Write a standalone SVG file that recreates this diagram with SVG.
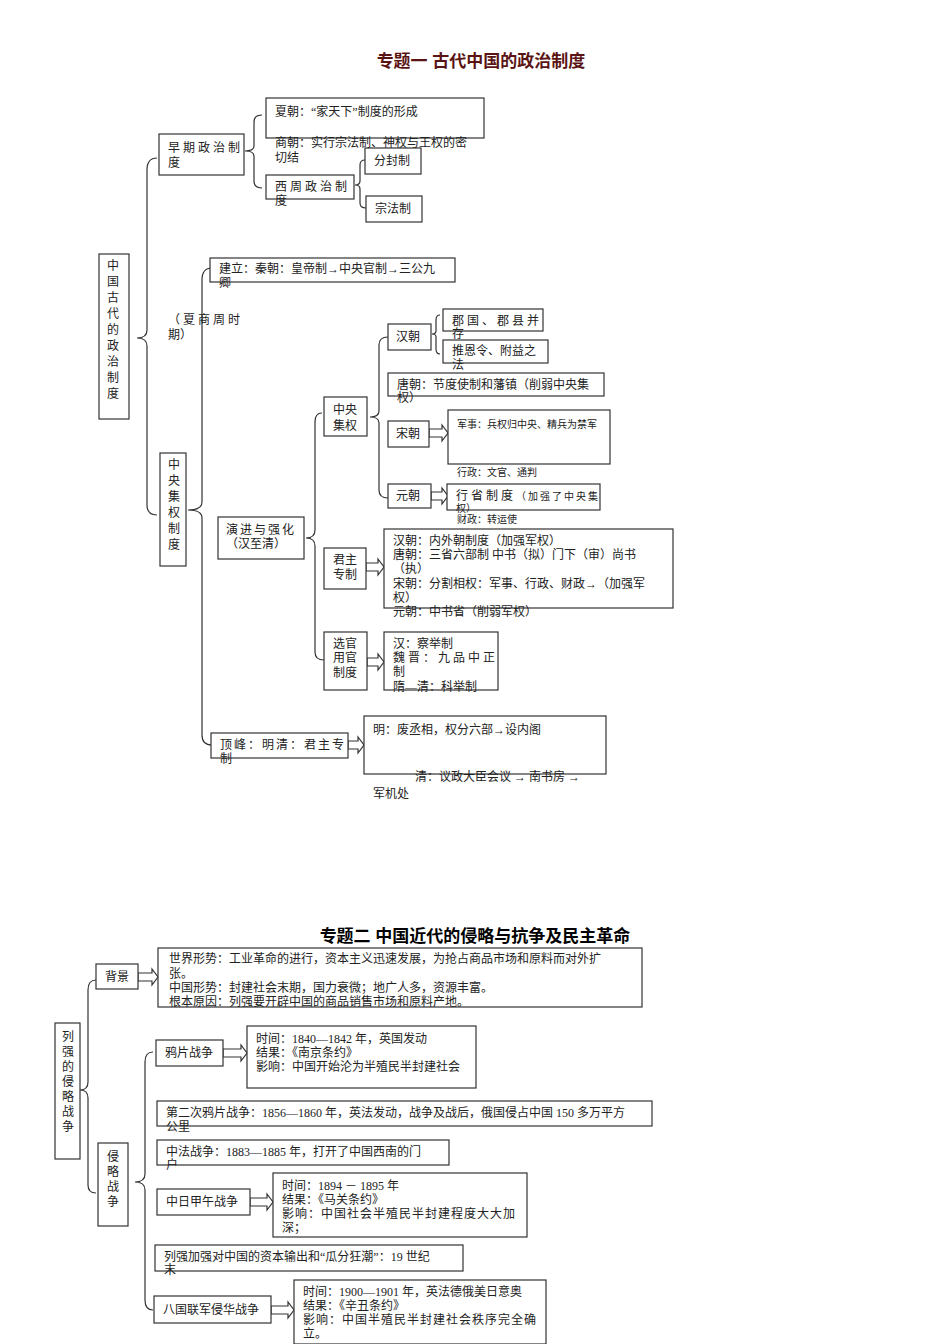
<svg xmlns="http://www.w3.org/2000/svg" width="950" height="1344" viewBox="0 0 950 1344">
<style>
text{font-family:"Liberation Serif","Noto Sans CJK SC",serif;font-size:12px;fill:#222}
.t1{font-family:"Liberation Sans","Noto Sans CJK SC",sans-serif;font-size:17px;font-weight:bold;fill:#5a1414}
.t2{font-family:"Liberation Sans","Noto Sans CJK SC",sans-serif;font-size:17px;font-weight:bold;fill:#000}
.s{font-size:10px}
rect{fill:#fff;stroke:#333;stroke-width:1.2}
.c path{fill:none;stroke:#333;stroke-width:1.2}
.c polygon{fill:#fff;stroke:#333;stroke-width:1.2}
</style>
<rect x="0" y="0" width="950" height="1344" style="stroke:none"/>
<text class="t1" x="481" y="67" text-anchor="middle">专题一  古代中国的政治制度</text>
<text class="t2" x="475" y="942" text-anchor="middle">专题二    中国近代的侵略与抗争及民主革命</text>

<g class="c" id="connectors">
<path d="M157 158 Q147 158 147 170 L147 330 Q147 338 137 338 Q147 338 147 346 L147 505 Q147 515 157 515"/>
<path d="M262 115 Q254 115 254 122 L254 146 Q254 151 245 151 Q254 151 254 156 L254 181 Q254 188 262 188"/>
<path d="M365 160 Q360 160 360 165 L360 181 Q360 185 355 185 Q360 185 360 189 L360 203 Q360 208 366 208"/>
<path d="M212 268 Q202 268 202 280 L202 502 Q202 510 188 510 Q202 510 202 518 L202 735 Q202 745 212 745"/>
<path d="M322 413 Q315 413 315 422 L315 530 Q315 538 306 538 Q315 538 315 546 L315 652 Q315 660 324 660"/>
<path d="M388 337 Q379 337 379 345 L379 411 Q379 417 370 417 Q379 417 379 423 L379 490 Q379 498 388 498"/>
<path d="M440 315 Q436 315 436 320 L436 331 Q436 334 432 334 Q436 334 436 337 L436 349 Q436 354 440 354"/>
<path d="M96 980 Q88 980 88 990 L88 1082 Q88 1090 80 1090 Q88 1090 88 1098 L88 1185 Q88 1193 96 1193"/>
<path d="M153 1052 Q145 1052 145 1062 L145 1174 Q145 1182 135 1182 Q145 1182 145 1190 L145 1300 Q145 1310 153 1310"/>
<polygon points="429,429 442,429 442,425 448,433 442,441 442,437 429,437"/>
<polygon points="431,492 442,492 442,488 448,496 442,504 442,500 431,500"/>
<polygon points="366,563 378,563 378,559 384,567 378,575 378,571 366,571"/>
<polygon points="367,658 378,658 378,654 384,662 378,670 378,666 367,666"/>
<polygon points="348,741 358,741 358,737 364,745 358,753 358,749 348,749"/>
<polygon points="138,973 152,973 152,969 158,977 152,985 152,981 138,981"/>
<polygon points="223,1049 241,1049 241,1045 247,1053 241,1061 241,1057 223,1057"/>
<polygon points="250,1198 267,1198 267,1194 273,1202 267,1210 267,1206 250,1206"/>
<polygon points="271,1306 288,1306 288,1302 294,1310 288,1318 288,1314 271,1314"/>
</g>

<g id="root1"><rect x="99" y="254" width="30" height="165"/>
<text x="113" y="270" text-anchor="middle">中</text><text x="113" y="286" text-anchor="middle">国</text><text x="113" y="302" text-anchor="middle">古</text><text x="113" y="318" text-anchor="middle">代</text><text x="113" y="334" text-anchor="middle">的</text><text x="113" y="350" text-anchor="middle">政</text><text x="113" y="366" text-anchor="middle">治</text><text x="113" y="382" text-anchor="middle">制</text><text x="113" y="398" text-anchor="middle">度</text></g>
<g id="early"><rect x="159" y="134" width="85" height="41"/><text x="168" y="152" letter-spacing="3">早期政治制</text><text x="168" y="167">度</text></g>
<g id="xia"><rect x="266" y="98" width="218" height="40"/><text x="275" y="116">夏朝：“家天下”制度的形成</text></g>
<g id="shang"><text x="275" y="147">商朝：实行宗法制、神权与王权的密</text><text x="275" y="162">切结</text></g>
<g id="xizhou"><rect x="266" y="175" width="88" height="24"/><text x="275" y="191" letter-spacing="3">西周政治制</text><text x="275" y="205">度</text></g>
<g id="fenfeng"><rect x="365" y="148" width="56" height="26"/><text x="374" y="165">分封制</text></g>
<g id="zongfa"><rect x="366" y="196" width="56" height="26"/><text x="375" y="213">宗法制</text></g>
<g id="xsz"><text x="168" y="324" letter-spacing="3">（夏商周时</text><text x="168" y="339">期）</text></g>
<g id="zyjq"><rect x="160" y="453" width="26" height="113"/>
<text x="174" y="469" text-anchor="middle">中</text><text x="174" y="485" text-anchor="middle">央</text><text x="174" y="501" text-anchor="middle">集</text><text x="174" y="517" text-anchor="middle">权</text><text x="174" y="533" text-anchor="middle">制</text><text x="174" y="549" text-anchor="middle">度</text></g>
<g id="jianli"><rect x="210" y="258" width="245" height="24"/><text x="219" y="273">建立：秦朝：皇帝制→中央官制→三公九</text><text x="219" y="287">卿</text></g>
<g id="yanjin"><rect x="218" y="517" width="86" height="42"/><text x="226" y="534" letter-spacing="2">演进与强化</text><text x="226" y="548">（汉至清）</text></g>
<g id="zhongyang"><rect x="324" y="397" width="43" height="39"/><text x="333" y="414">中央</text><text x="333" y="430">集权</text></g>
<g id="han"><rect x="388" y="324" width="43" height="26"/><text x="396" y="341">汉朝</text></g>
<g id="junguo"><rect x="443" y="309" width="100" height="22"/><text x="452" y="325" letter-spacing="3">郡国、郡县并</text><text x="452" y="338">存</text></g>
<g id="tuien"><rect x="443" y="340" width="105" height="23"/><text x="452" y="355">推恩令、附益之</text><text x="452" y="369">法</text></g>
<g id="tang"><rect x="388" y="373" width="216" height="23"/><text x="397" y="389">唐朝：节度使制和藩镇（削弱中央集</text><text x="397" y="402">权）</text></g>
<g id="song"><rect x="388" y="421" width="41" height="26"/><text x="396" y="438">宋朝</text></g>
<g id="songc"><rect x="448" y="410" width="162" height="54"/><text class="s" x="457" y="428">军事：兵权归中央、精兵为禁军</text><text class="s" x="457" y="476">行政：文官、通判</text></g>
<g id="yuan"><rect x="388" y="484" width="43" height="24"/><text x="396" y="500">元朝</text></g>
<g id="yuanc"><rect x="447" y="484" width="153" height="26"/><text x="456" y="500"><tspan letter-spacing="3">行省制度</tspan><tspan class="s" letter-spacing="2">（加强了中央集</tspan></text><text class="s" x="456" y="512">权）</text><text class="s" x="457" y="523">财政：转运使</text></g>
<g id="junzhu"><rect x="324" y="548" width="42" height="41"/><text x="333" y="564">君主</text><text x="333" y="579">专制</text></g>
<g id="junzhuc"><rect x="384" y="529" width="289" height="79"/><text x="393" y="545">汉朝：内外朝制度（加强军权）</text><text x="393" y="559">唐朝：三省六部制  中书（拟）门下（审）尚书</text><text x="393" y="573">（执）</text><text x="393" y="588">宋朝：分割相权：军事、行政、财政→（加强军</text><text x="393" y="602">权）</text><text x="393" y="616">元朝：中书省（削弱军权）</text></g>
<g id="xuanguan"><rect x="324" y="632" width="43" height="58"/><text x="333" y="648">选官</text><text x="333" y="662">用官</text><text x="333" y="677">制度</text></g>
<g id="xuanguanc"><rect x="384" y="632" width="114" height="58"/><text x="393" y="648">汉：察举制</text><text x="393" y="662" letter-spacing="3">魏晋：九品中正</text><text x="393" y="676">制</text><text x="393" y="691">隋—清：科举制</text></g>
<g id="dingfeng"><rect x="211" y="733" width="137" height="25"/><text x="220" y="749" letter-spacing="2">顶峰：明清：君主专</text><text x="220" y="763">制</text></g>
<g id="ming"><rect x="364" y="716" width="242" height="58"/><text x="373" y="734">明：废丞相，权分六部→设内阁</text><text x="415" y="781">清：议政大臣会议 → 南书房 →</text><text x="373" y="798">军机处</text></g>

<g id="root2"><rect x="55" y="1023" width="25" height="136"/>
<text x="68" y="1041" text-anchor="middle">列</text><text x="68" y="1056" text-anchor="middle">强</text><text x="68" y="1071" text-anchor="middle">的</text><text x="68" y="1086" text-anchor="middle">侵</text><text x="68" y="1101" text-anchor="middle">略</text><text x="68" y="1116" text-anchor="middle">战</text><text x="68" y="1131" text-anchor="middle">争</text></g>
<g id="beijing"><rect x="96" y="964" width="42" height="25"/><text x="105" y="981">背景</text></g>
<g id="beijingc"><rect x="158" y="948" width="484" height="59"/><text x="169" y="963">世界形势：工业革命的进行，资本主义迅速发展，为抢占商品市场和原料而对外扩</text><text x="169" y="978">张。</text><text x="169" y="992">中国形势：封建社会末期，国力衰微；地广人多，资源丰富。</text><text x="169" y="1006">根本原因：列强要开辟中国的商品销售市场和原料产地。</text></g>
<g id="qinlue"><rect x="98" y="1143" width="30" height="83"/><text x="113" y="1161" text-anchor="middle">侵</text><text x="113" y="1176" text-anchor="middle">略</text><text x="113" y="1191" text-anchor="middle">战</text><text x="113" y="1206" text-anchor="middle">争</text></g>
<g id="yapian"><rect x="156" y="1040" width="67" height="26"/><text x="165" y="1057">鸦片战争</text></g>
<g id="yapianc"><rect x="247" y="1026" width="229" height="62"/><text x="256" y="1043">时间：1840—1842 年，英国发动</text><text x="256" y="1057">结果：《南京条约》</text><text x="256" y="1071">影响：中国开始沦为半殖民半封建社会</text></g>
<g id="dierci"><rect x="157" y="1101" width="495" height="25"/><text x="166" y="1117">第二次鸦片战争：1856—1860 年，英法发动，战争及战后，俄国侵占中国 150 多万平方</text><text x="166" y="1131">公里</text></g>
<g id="zhongfa"><rect x="157" y="1140" width="292" height="25"/><text x="166" y="1156">中法战争：1883—1885 年，打开了中国西南的门</text><text x="166" y="1169">户</text></g>
<g id="jiawu"><rect x="157" y="1189" width="93" height="26"/><text x="166" y="1206">中日甲午战争</text></g>
<g id="jiawuc"><rect x="273" y="1173" width="254" height="64"/><text x="282" y="1190">时间：1894 － 1895 年</text><text x="282" y="1204">结果：《马关条约》</text><text x="282" y="1218" letter-spacing="1">影响：中国社会半殖民半封建程度大大加</text><text x="282" y="1232">深；</text></g>
<g id="guafen"><rect x="155" y="1245" width="308" height="26"/><text x="164" y="1261">列强加强对中国的资本输出和“瓜分狂潮”：19 世纪</text><text x="164" y="1274">末</text></g>
<g id="baguo"><rect x="154" y="1296" width="117" height="27"/><text x="163" y="1314">八国联军侵华战争</text></g>
<g id="baguoc"><rect x="294" y="1280" width="252" height="64"/><text x="303" y="1296">时间：1900—1901 年，英法德俄美日意奥</text><text x="303" y="1310">结果：《辛丑条约》</text><text x="303" y="1324" letter-spacing="1">影响：中国半殖民半封建社会秩序完全确</text><text x="303" y="1338">立。</text></g>
</svg>
